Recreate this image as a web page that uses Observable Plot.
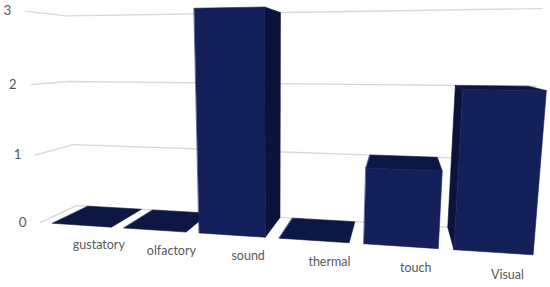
<!DOCTYPE html>
<html>
<head>
<meta charset="utf-8">
<script src="https://cdn.jsdelivr.net/npm/d3@7"></script>
<script src="https://cdn.jsdelivr.net/npm/@observablehq/plot@0.6"></script>
<style>
  html, body { margin: 0; padding: 0; background: #ffffff; }
  #chart { width: 550px; height: 287px; }
</style>
</head>
<body>
<div id="chart"></div>
<script>
// ---- data ----
const categories = ["gustatory", "olfactory", "sound", "thermal", "touch", "Visual"];
const values = [0, 0, 3, 0, 1, 2];
const yTicks = [0, 1, 2, 3];
const yTickLabels = ["0", "1", "2", "3"];

// ---- 3D layout (perspective camera) ----
const W = 550, H = 287;
const slotStart = 0.1, slotW = 1.12, barInset = 0.095, barW = 0.93, depth = 1;
const floorEnd = slotStart + categories.length * slotW;
const cam = {f: 587, u0: 272, v0: 158, yaw: -12.1, pitch: 10, C: [5.047, 2.408, -7.383]};
const rad = Math.PI / 180;
const st = Math.sin(cam.yaw * rad), ct = Math.cos(cam.yaw * rad);
const sp = Math.sin(cam.pitch * rad), cp = Math.cos(cam.pitch * rad);
const R = [ct, 0, -st], D = [st * cp, -sp, ct * cp], U = [st * sp, cp, ct * sp];
const dot = (a, b) => a[0] * b[0] + a[1] * b[1] + a[2] * b[2];
function project(X, Y, Z) {
  const p = [X - cam.C[0], Y - cam.C[1], Z - cam.C[2]];
  const zc = dot(D, p);
  return {u: cam.u0 + cam.f * dot(R, p) / zc, v: cam.v0 - cam.f * dot(U, p) / zc};
}

// gridlines: left wall (front -> back) then back wall (left -> right)
const grid = yTicks.flatMap(t => [
  {t, ...project(0, t, 0)},
  {t, ...project(0, t, depth)},
  {t, ...project(floorEnd, t, depth)}
]);

// bar faces (only those facing the camera)
const faces = {side: [], top: [], front: []};
categories.forEach((c, i) => {
  const v = values[i];
  const x0 = slotStart + i * slotW + barInset, x1 = x0 + barW;
  const poly = (key, pts) => pts.forEach(([X, Y, Z], k) => faces[key].push({id: c + key, k, ...project(X, Y, Z)}));
  if (v > 0) poly("front", [[x0, 0, 0], [x1, 0, 0], [x1, v, 0], [x0, v, 0]]);
  if (cam.C[1] > v) poly("top", [[x0, v, 0], [x1, v, 0], [x1, v, depth], [x0, v, depth]]);
  if (v > 0 && cam.C[0] > x1) poly("side", [[x1, 0, 0], [x1, 0, depth], [x1, v, depth], [x1, v, 0]]);
  if (v > 0 && cam.C[0] < x0) poly("side", [[x0, 0, 0], [x0, 0, depth], [x0, v, depth], [x0, v, 0]]);
});

const yLabels = yTicks.map((t, j) => ({label: yTickLabels[j], ...project(0, t, 0)}));
const xLabels = categories.map((c, i) => ({label: c, ...project(slotStart + (i + 0.5) * slotW, -0.3, 0)}));

const colors = {front: "#13205a", top: "#0c1743", side: "#0a1339"};
const faceMark = key => Plot.line(faces[key], {
  x: "u", y: "v", z: "id", curve: "linear-closed",
  fill: colors[key], stroke: colors[key], strokeWidth: 0.6
});

const chart = Plot.plot({
  width: W, height: H,
  marginTop: 0, marginRight: 0, marginBottom: 0, marginLeft: 0,
  x: {domain: [0, W], range: [0, W], axis: null},
  y: {domain: [0, H], range: [0, H], axis: null},
  style: {fontFamily: "Lato, 'Open Sans', sans-serif", background: "#ffffff", overflow: "visible"},
  marks: [
    Plot.line(grid, {x: "u", y: "v", z: "t", stroke: "#d9d9d9", strokeWidth: 1.4}),
    faceMark("side"),
    faceMark("top"),
    faceMark("front"),
    Plot.text(yLabels, {x: "u", y: "v", text: "label", textAnchor: "end", dx: -14, fontSize: 13.5, fill: "#595959"}),
    Plot.text(xLabels, {x: "u", y: "v", text: "label", dx: 16, fontSize: 12.5, fill: "#595959"})
  ]
});
document.getElementById("chart").appendChild(chart);
</script>
</body>
</html>
